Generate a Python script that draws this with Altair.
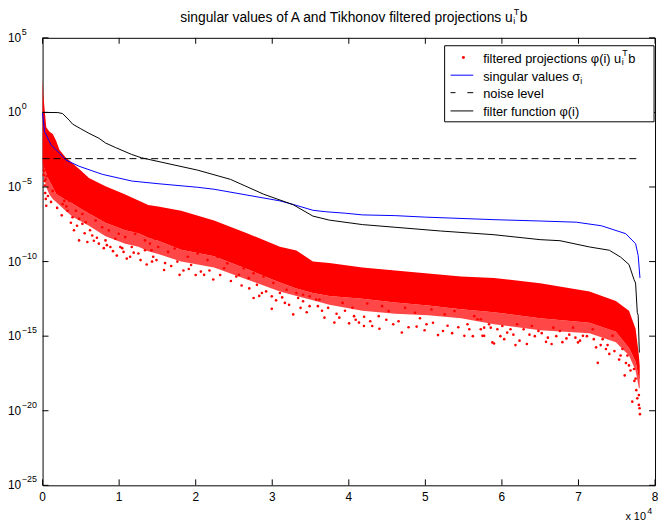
import altair as alt
import pandas as pd

W, H = 620, 453
FONT = "Liberation Sans"

# ---------------- data (exponents are log10 of the values) ----------------
cloud_x = [0, 100, 250, 480, 900, 1330, 1770, 2200, 3000, 3910, 5000, 6060, 8220, 10800, 12520,
           13800, 15100, 18100, 22400, 26700, 31000, 33160, 35310, 37460, 41770, 46060, 50360,
           54670, 58970, 64990, 71440, 74880, 76600, 77460, 77890, 78000]
cloud_top_exp = [2.2, 1.2, 0.3, -1.0, -1.3, -1.45, -1.9, -2.5, -3.0, -3.4, -3.9, -4.4, -4.95, -5.5,
                 -5.9, -6.2, -6.3, -6.6, -7.25, -8.1, -9.0, -9.25, -10.0, -10.1, -10.4, -10.6,
                 -10.8, -11.0, -11.1, -11.45, -12.0, -12.65, -13.3, -14.5, -16.3, -17.0]
cloud_bottom_exp = [-3.3, -3.6, -3.8, -4.1, -4.6, -5.0, -5.45, -5.6, -5.85, -6.1, -6.45, -6.77,
                    -7.4, -7.9, -8.1, -8.4, -8.6, -9.2, -9.64, -10.5, -11.4, -11.8, -12.1, -12.3,
                    -12.5, -12.75, -12.95, -13.2, -13.4, -13.8, -14.1, -14.7, -15.8, -16.7,
                    -17.8, -17.9]
cloud_fringe_exp = [-3.8, -4.2, -4.5, -5.0, -5.5, -5.8, -6.0, -6.2, -6.6, -7.0, -7.3, -7.6,
                    -8.3, -8.8, -9.0, -9.3, -9.5, -10.0, -10.4, -11.2, -12.0, -12.3, -12.6,
                    -12.9, -13.3, -13.5, -13.6, -13.8, -14.2, -14.6, -14.8, -15.4, -16.3,
                    -17.3, -18.5, -18.5]

dots_x = [150, 200, 260, 300, 350, 380, 420, 480, 560, 900, 1330, 1550, 2190, 2620, 2840, 3270,
          3480, 3910, 4350, 4770, 4770, 5200, 5200, 5640, 5850, 6490, 6930, 7350, 7780, 8220,
          8650, 8860, 9510, 9940, 10150, 10580, 10800, 11440, 11650, 12090, 12520, 13380, 13380,
          14030, 14230, 14450, 14670, 14880, 15100, 15870, 16390, 17250, 17900, 18970, 19400,
          20260, 20680, 21100, 21550, 22840, 23700, 24130, 24990, 25640, 26280, 26930, 27570,
          27570, 28000, 28650, 28860, 29940, 29940, 30150, 31000, 31650, 31870, 32740, 33160,
          33380, 34030, 34030, 34880, 34880, 35740, 35960, 36170, 36820, 38110, 38760, 39190,
          40040, 40480, 40690, 41330, 41980, 42410, 43060, 43910, 44350, 45200, 46930, 47350,
          48650, 48860, 50150, 50800, 51650, 52300, 52520, 53810, 55100, 55740, 56390, 56800,
          57240, 57250, 57460, 57680, 57680, 58320, 58540, 58750, 58970, 59400, 60050, 60690,
          61120, 61770, 61980, 62840, 63260, 63910, 64770, 65760, 66490, 66710, 67570, 68430,
          69290, 69940, 70580, 71870, 72300, 72520, 73160, 73590, 74030, 74450, 75310, 75740,
          76040, 76390, 76600, 77030, 77250, 77460, 77550, 77680, 77890, 77890, 77980, 78030,
          700, 1100, 1900, 2500, 3100, 3700, 4100, 4500, 5500, 6200, 6700, 7100, 8000, 8400,
          9200, 9700, 10400, 11000, 11900, 12800, 13600, 14300,
          16000, 16800, 17600, 18400, 19100, 20000, 21800, 22300, 23200, 24600, 25300, 26000,
          27000, 28300, 29200, 30500, 31300, 32200, 33700, 34500,
          36500, 37300, 38400, 39500, 40900, 42000, 42800, 44000, 44900, 45800, 46500, 47800,
          49300, 49900, 51000, 52900, 53500, 54300, 55500, 56200,
          59800, 60300, 61500, 62300, 63600, 64300, 65200, 66000, 67100, 67900, 68800, 69600,
          70200, 71100, 72000, 72900, 73800, 74700, 75500, 76200, 76800, 77300]
dots_exp = [-4.2, -3.9, -4.6, -4.9, -5.4, -4.5, -5.8, -6.26, -4.27, -4.38, -5.26, -4.71, -5.48,
            -6.15, -5.93, -6.59, -5.93, -7.03, -6.59, -7.14, -8.58, -7.47, -6.81, -7.36, -8.69,
            -8.25, -7.25, -8.8, -7.7, -8.58, -7.91, -9.02, -8.47, -8.13, -9.02, -9.35, -8.36,
            -9.68, -9.02, -8.13, -9.46, -9.24, -8.58, -8.8, -9.24, -9.68, -8.47, -9.9, -9.02,
            -10.56, -9.35, -9.13, -10.89, -9.68, -10.23, -9.46, -10.67, -10.89, -9.9, -9.68,
            -10.45, -10.12, -9.9, -10.89, -10.45, -11.11, -12.44, -10.78, -11.56, -12.11, -11.0,
            -12.33, -13.17, -11.44, -12.11, -12.77, -11.89, -13.54, -12.11, -12.44, -12.66,
            -12.22, -12.99, -12.33, -12.55, -12.99, -12.55, -13.76, -14.09, -13.76, -12.77,
            -14.14, -13.1, -13.66, -14.09, -14.32, -12.81, -14.32, -13.66, -12.99, -13.32,
            -14.75, -13.1, -13.43, -14.36, -14.2, -13.21, -14.93, -14.65, -13.54, -13.32,
            -14.98, -14.54, -13.66, -13.87, -14.54, -13.87, -14.98, -14.43, -14.98, -14.2,
            -14.43, -15.42, -15.49, -14.54, -14.32, -14.76, -14.54, -15.6, -14.2, -14.54,
            -15.53, -14.32, -14.65, -15.38, -15.53, -14.43, -14.65, -15.15, -14.43, -15.42,
            -14.98, -14.54, -15.75, -16.79, -15.2, -15.86, -16.19, -14.98, -16.57, -15.86,
            -17.63, -16.3, -16.96, -19.39, -17.2, -17.85, -18.62, -19.17, -19.61, -18.95,
            -19.83, -20.23,
            -5.6, -6.0, -6.4, -6.9, -6.3, -7.4, -7.9, -7.6, -8.1, -7.9, -8.6, -8.4, -9.1, -8.9,
            -9.3, -9.6, -9.1, -9.8, -9.4, -9.9, -10.2, -10.0,
            -10.1, -10.3, -10.0, -10.6, -10.5, -10.9, -10.6, -11.2, -10.9, -11.3, -11.0, -11.6,
            -11.8, -12.3, -12.0, -12.6, -12.4, -12.9, -13.1, -13.4,
            -13.3, -13.1, -13.5, -13.3, -13.9, -13.7, -14.0, -14.5, -13.9, -14.2, -14.0, -14.4,
            -13.8, -14.6, -14.1, -14.3, -14.8, -14.4, -14.2, -15.0,
            -15.0, -15.2, -14.9, -15.3, -14.9, -15.0, -14.8, -15.1, -15.0, -15.4, -14.9, -15.1,
            -15.3, -15.0, -15.2, -15.6, -15.6, -16.0, -16.3, -16.8, -17.3, -18.0]

sv_x = [0, 260, 480, 1100, 2200, 3060, 4770, 7800, 11650, 15100, 20260, 22400, 26700, 31000,
        32740, 35310, 37000, 39600, 41770, 46060, 50000, 58970, 64990, 69720, 73000, 76170,
        77460, 77800, 78030]
sv_exp = [-0.05, -1.29, -1.51, -2.17, -2.73, -3.2, -3.61, -4.15, -4.6, -4.78, -5.02, -5.15,
          -5.54, -5.93, -6.17, -6.56, -6.66, -6.76, -6.87, -6.92, -7.02, -7.19, -7.28, -7.36,
          -7.6, -8.13, -8.8, -9.6, -11.1]

filt_x = [0, 2000, 2620, 3480, 3910, 5000, 6060, 7350, 8220, 9500, 11600, 12900, 16000, 20260,
          24550, 28860, 32740, 35310, 37460, 41770, 46060, 52000, 58970, 64990, 67580, 71440,
          74030, 75500, 76600, 77250, 77460, 77680, 77800, 77950]
filt_exp = [0.0, -0.01, -0.08, -0.52, -0.78, -1.1, -1.4, -1.73, -2.05, -2.35, -2.81, -3.04,
            -3.39, -3.87, -4.49, -5.48, -6.19, -6.95, -7.22, -7.52, -7.7, -7.95, -8.2, -8.53,
            -8.6, -9.02, -9.24, -9.7, -10.2, -11.2, -11.44, -13.4, -13.6, -16.1]

noise_x = [0, 77700]
noise_exp = -3.1

x_ticks = [0, 10000, 20000, 30000, 40000, 50000, 60000, 70000, 80000]
x_tick_labels = ["0", "1", "2", "3", "4", "5", "6", "7", "8"]
y_tick_exp = [5, 0, -5, -10, -15, -20, -25]

title_main = "singular values of A and Tikhonov filtered projections u"
legend_labels = ["filtered projections \u03c6(i) u", "singular values \u03c3", "noise level",
                 "filter function \u03c6(i)"]

# ---------------- tables ----------------
cloud = pd.DataFrame({"x": cloud_x,
                      "top": [10.0 ** e for e in cloud_top_exp],
                      "bot": [10.0 ** e for e in cloud_bottom_exp],
                      "fr": [10.0 ** e for e in cloud_fringe_exp]})
dots = pd.DataFrame({"x": dots_x, "y": [10.0 ** e for e in dots_exp]})
sv = pd.DataFrame({"x": sv_x, "y": [10.0 ** e for e in sv_exp]})
filt = pd.DataFrame({"x": filt_x, "y": [10.0 ** e for e in filt_exp]})
noise = pd.DataFrame({"x": noise_x, "y": [10.0 ** noise_exp] * 2})
xt = pd.DataFrame({"x": x_ticks, "lab": x_tick_labels})
yt = pd.DataFrame({"v": [10.0 ** e for e in y_tick_exp],
                   "e": [str(e).replace("-", "\u2212") for e in y_tick_exp]})
one = pd.DataFrame({"a": [0]})

xs = alt.Scale(domain=[0, 80000], nice=False, zero=False)
ys = alt.Scale(type="log", domain=[1e-25, 1e5], nice=False)

# Arial / Liberation Sans advance widths (per 1000 em)
AW = {" ": 278, "a": 556, "b": 556, "c": 500, "d": 556, "e": 556, "f": 278, "g": 556, "h": 556,
      "i": 222, "j": 222, "k": 500, "l": 222, "m": 833, "n": 556, "o": 556, "p": 556, "q": 556,
      "r": 333, "s": 500, "t": 278, "u": 556, "v": 500, "w": 722, "x": 500, "y": 500, "z": 500,
      "(": 333, ")": 333, "\u03c6": 640, "\u03c3": 580}


def tw(s, size):
    return sum(AW.get(c, 556) for c in s) * size / 1000.0


Xn = alt.X("x:Q", scale=xs, axis=None)


def Yn(f):
    return alt.Y(f, scale=ys, axis=None)


def txt(s, x, y, size, align="left", color="black"):
    return alt.Chart(one).mark_text(font=FONT, fontSize=size, align=align,
                                    baseline="alphabetic", color=color).encode(
        x=alt.value(x), y=alt.value(y), text=alt.value(s))


fringe = alt.Chart(cloud).mark_area(color="#ff0000", opacity=0.72, interpolate="linear").encode(
    x=Xn, y=Yn("bot:Q"), y2="fr:Q")
area = alt.Chart(cloud).mark_area(color="#ff0000", opacity=1, interpolate="linear").encode(
    x=Xn, y=Yn("top:Q"), y2="bot:Q")
pts = alt.Chart(dots).mark_circle(color="#ff0000", opacity=1, size=7).encode(
    x=Xn, y=Yn("y:Q"))
sv_line = alt.Chart(sv).mark_line(color="#0000ff", strokeWidth=1).encode(x=Xn, y=Yn("y:Q"))
noise_line = alt.Chart(noise).mark_line(color="black", strokeWidth=1, strokeDash=[7, 4]).encode(
    x=Xn, y=Yn("y:Q"))
filt_line = alt.Chart(filt).mark_line(color="black", strokeWidth=1).encode(x=Xn, y=Yn("y:Q"))

# inward ticks on all four sides
tick_b = alt.Chart(xt).mark_rule(color="black", strokeWidth=1).encode(
    x=Xn, y=alt.value(H), y2=alt.value(H - 6))
tick_t = alt.Chart(xt).mark_rule(color="black", strokeWidth=1).encode(
    x=Xn, y=alt.value(0), y2=alt.value(6))
tick_l = alt.Chart(yt).mark_rule(color="black", strokeWidth=1).encode(
    y=Yn("v:Q"), x=alt.value(0), x2=alt.value(6))
tick_r = alt.Chart(yt).mark_rule(color="black", strokeWidth=1).encode(
    y=Yn("v:Q"), x=alt.value(W - 6), x2=alt.value(W))

# x tick labels
xlab = alt.Chart(xt).mark_text(font=FONT, fontSize=12, align="center", baseline="alphabetic",
                               color="black").encode(
    x=Xn, y=alt.value(H + 16), text="lab:N")

# y tick labels 10^k
ylab10 = alt.Chart(yt).mark_text(font=FONT, fontSize=12, align="left", baseline="middle",
                                 color="black").encode(
    y=Yn("v:Q"), x=alt.value(-35), text=alt.value("10"))
ylabexp = alt.Chart(yt).mark_text(font=FONT, fontSize=9, align="left", baseline="middle",
                                  color="black", dy=-6).encode(
    y=Yn("v:Q"), x=alt.value(-21), text="e:N")

# x multiplier
xmul = txt("x 10", 590, 488, 11)
xmulexp = txt("4", 612, 482, 9)

# title with u_i^T b
TX, TB = 476, -16.5
t_main = txt(title_main, TX, TB, 14, align="right")
t_sup = txt("T", TX + 1, TB - 7, 9)
t_sub = txt("i", TX + 0.5, TB + 2.5, 9)
t_b = txt("b", TX + 7, TB, 14)

# legend
LX0, LX1, LY0, LY1 = 407, 619, 8, 85
LT = 446
LFS = 13
base = [25.5, 43.3, 61.2, 79.0]
sym_y = [20.0, 37.8, 55.5, 74.0]
leg_box = alt.Chart(one).mark_rect(fill="white", stroke="black", strokeWidth=1).encode(
    x=alt.value(LX0), x2=alt.value(LX1), y=alt.value(LY0), y2=alt.value(LY1))
leg_dot = alt.Chart(one).mark_circle(color="#ff0000", opacity=1, size=9).encode(
    x=alt.value(426), y=alt.value(sym_y[0]))
leg_blue = alt.Chart(one).mark_rule(color="#0000ff", strokeWidth=1).encode(
    x=alt.value(413), x2=alt.value(436), y=alt.value(sym_y[1]))
leg_dash1 = alt.Chart(one).mark_rule(color="black", strokeWidth=1).encode(
    x=alt.value(413), x2=alt.value(418), y=alt.value(sym_y[2]))
leg_dash2 = alt.Chart(one).mark_rule(color="black", strokeWidth=1).encode(
    x=alt.value(430), x2=alt.value(436), y=alt.value(sym_y[2]))
leg_black = alt.Chart(one).mark_rule(color="black", strokeWidth=1).encode(
    x=alt.value(413), x2=alt.value(436), y=alt.value(sym_y[3]))

w1 = tw(legend_labels[0], LFS)
w2 = tw(legend_labels[1], LFS)
leg_texts = [txt(lab, LT, b, LFS) for lab, b in zip(legend_labels, base)]
leg_texts += [
    txt("T", LT + w1 + 1, base[0] - 7, 9),
    txt("i", LT + w1 + 0.5, base[0] + 2.5, 9),
    txt("b", LT + w1 + 7, base[0], LFS),
    txt("i", LT + w2 + 0.5, base[1] + 3, 9),
]

chart = alt.layer(
    fringe, area, pts, sv_line, noise_line, filt_line,
    tick_b, tick_t, tick_l, tick_r, xlab, ylab10, ylabexp, xmul, xmulexp,
    t_main, t_sup, t_sub, t_b,
    leg_box, leg_dot, leg_blue, leg_dash1, leg_dash2, leg_black, *leg_texts
).properties(
    width=W, height=H,
    autosize=alt.AutoSizeParams(type="none"),
    padding={"left": 35, "top": 27, "right": 3, "bottom": 40},
    background="white",
).configure_view(stroke="black", strokeWidth=1)

chart.save("out.html", embed_options={"renderer": "svg", "actions": False})
